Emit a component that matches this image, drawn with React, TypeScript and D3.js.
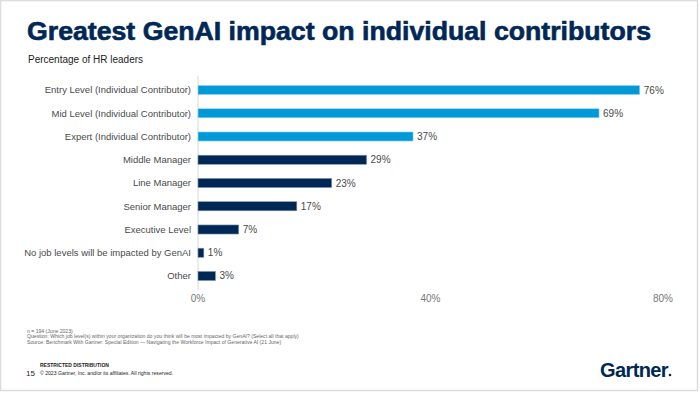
import React from "react";
import { scaleLinear, scaleBand } from "d3";

const categories = [
  "Entry Level (Individual Contributor)",
  "Mid Level (Individual Contributor)",
  "Expert (Individual Contributor)",
  "Middle Manager",
  "Line Manager",
  "Senior Manager",
  "Executive Level",
  "No job levels will be impacted by GenAI",
  "Other",
];
const values = [76, 69, 37, 29, 23, 17, 7, 1, 3];
const individual = [true, true, true, false, false, false, false, false, false];
const ticks = [0, 40, 80];

const footnotes = [
  "n = 194 (June 2023)",
  "Question: Which job level(s) within your organization do you think will be most impacted by GenAI? (Select all that apply)",
  "Source: Benchmark With Gartner: Special Edition \u2014 Navigating the Workforce Impact of Generative AI (21 June)",
];

const W = 700;
const H = 395;
const navy = "#002856";
const blue = "#0099d8";
const grey = "#4a4a4a";
const font = "Liberation Sans, Arial, sans-serif";

export default function App() {
  const x = scaleLinear().domain([0, 80]).range([198, 663]);
  const y = scaleBand<string>()
    .domain(categories)
    .range([78.5, 287.5])
    .paddingInner(0.61)
    .paddingOuter(0.3);

  return (
    <svg
      width={W}
      height={H}
      style={{ position: "absolute", left: 0, top: 0, background: "#fff" }}
      fontFamily={font}
    >
      {/* slide frame */}
      <rect x={0.5} y={0.5} width={W - 3} height={H - 5} fill="none" stroke="#dcdcdc" strokeWidth={1.5} />

      <text
        x={27}
        y={39.5}
        fontSize={25}
        fontWeight="bold"
        fill={navy}
        stroke={navy}
        strokeWidth={0.6}
        textLength={624}
        lengthAdjust="spacingAndGlyphs"
      >
        Greatest GenAI impact on individual contributors
      </text>
      <text x={28} y={63} fontSize={10} fill="#222">
        Percentage of HR leaders
      </text>

      {/* axis line */}
      <line x1={x(0)} x2={x(0)} y1={76} y2={290} stroke="#d9d9d9" strokeWidth={1} />

      {categories.map((c, i) => {
        const by = y(c) as number;
        const bh = y.bandwidth();
        const cy = by + bh / 2;
        return (
          <g key={c}>
            <rect
              x={x(0)}
              y={by}
              width={x(values[i]) - x(0)}
              height={bh}
              fill={individual[i] ? blue : navy}
              stroke={individual[i] ? "#9fd6f0" : "#7f93ab"}
              strokeWidth={0.6}
            />
            <text x={x(0) - 7} y={cy} dy="0.35em" textAnchor="end" fontSize={9.5} fill={grey}>
              {c}
            </text>
            <text x={x(values[i]) + 4} y={cy} dy="0.35em" fontSize={10} fill={grey}>
              {values[i]}%
            </text>
          </g>
        );
      })}

      {ticks.map((t) => (
        <text key={t} x={x(t)} y={302} textAnchor="middle" fontSize={10} fill="#777">
          {t}%
        </text>
      ))}

      {footnotes.map((f, i) => (
        <text key={i} x={27} y={332.5 + i * 5.5} fontSize={5.1} fill="#666">
          {f}
        </text>
      ))}

      <text x={40} y={366.5} fontSize={5} fontWeight="bold" fill="#222">
        RESTRICTED DISTRIBUTION
      </text>
      <text x={26} y={376} fontSize={8} fill="#222">
        15
      </text>
      <text x={40} y={375} fontSize={5.1} fill="#222">
        {"\u00a9 2023 Gartner, Inc. and/or its affiliates. All rights reserved."}
      </text>

      {/* logo */}
      <text x={600} y={377} fontSize={20} fontWeight="bold" fill={navy} letterSpacing={-0.6}>
        Gartner
      </text>
      <circle cx={670} cy={375} r={1.3} fill={navy} />
    </svg>
  );
}
